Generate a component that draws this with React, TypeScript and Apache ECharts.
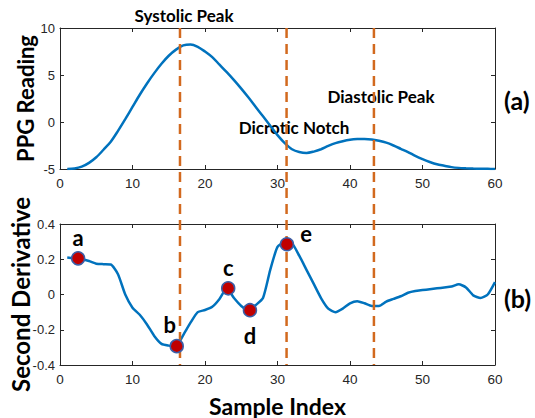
import React, { useEffect, useRef } from 'react';
import * as echarts from 'echarts';

const sampleIdx = Array.from({ length: 60 }, (_, i) => i + 1);

const ppgReading = [
  -5.0, -4.95, -4.75, -4.35, -3.75, -2.95, -2.1, -0.95, 0.3, 1.6,
  2.9, 4.1, 5.2, 6.2, 7.05, 7.7, 8.15, 8.25, 8.0, 7.5,
  6.9, 6.1, 5.3, 4.45, 3.55, 2.6, 1.6, 0.6, -0.4, -1.4,
  -2.25, -2.9, -3.2, -3.3, -3.15, -2.9, -2.55, -2.25, -2.05, -1.9,
  -1.82, -1.8, -1.85, -2.0, -2.2, -2.5, -2.85, -3.2, -3.6, -3.95,
  -4.25, -4.5, -4.65, -4.8, -4.88, -4.92, -4.95, -4.97, -4.98, -5.0,
];

const secondDeriv = [
  0.21, 0.205, 0.2, 0.19, 0.175, 0.172, 0.17, 0.115, 0.0, -0.075,
  -0.115, -0.17, -0.235, -0.28, -0.29, -0.295, -0.23, -0.16, -0.1, -0.088,
  -0.07, -0.025, 0.035, -0.02, -0.065, -0.09, -0.06, -0.02, 0.14, 0.27,
  0.295, 0.29, 0.22, 0.14, 0.06, -0.02, -0.08, -0.1, -0.08, -0.05,
  -0.038, -0.05, -0.065, -0.065, -0.04, -0.025, -0.01, 0.01, 0.02, 0.025,
  0.03, 0.035, 0.04, 0.045, 0.058, 0.04, -0.005, -0.02, 0.0, 0.07,
];

const waveLabels = ['a', 'b', 'c', 'd', 'e'];
const waveX = [2.5, 16.1, 23.2, 26.2, 31.3];
const waveY = [0.205, -0.293, 0.035, -0.089, 0.285];

const eventX = [16.55, 31.25, 43.3];
const eventNames = ['Systolic Peak', 'Dicrotic Notch', 'Diastolic Peak'];
const panelNames = ['(a)', '(b)'];

const AX = '#262626';
const BOLD = 'Lato';

function makeX(gridIndex: number, pos: 'bottom' | 'top', labels: boolean, name?: string) {
  return {
    gridIndex,
    type: 'value',
    position: pos,
    min: 0,
    max: 60,
    interval: 10,
    name: name || '',
    nameLocation: 'middle',
    nameGap: 29,
    nameMoveOverlap: false,
    nameTextStyle: { fontFamily: BOLD, fontWeight: 'bold', fontSize: 23, color: '#000' },
    axisLine: { show: true, onZero: false, lineStyle: { color: AX, width: 1 } },
    axisTick: { show: true, inside: true, length: 4, lineStyle: { color: AX } },
    axisLabel: { show: labels, color: AX, fontSize: 13.5, fontFamily: 'Liberation Sans', margin: 7 },
    splitLine: { show: false },
  };
}

function makeY(gridIndex: number, pos: 'left' | 'right', labels: boolean, min: number, max: number, interval: number, name?: string, nameSize?: number, gap?: number) {
  return {
    gridIndex,
    type: 'value',
    position: pos,
    min,
    max,
    interval,
    name: name || '',
    nameLocation: 'middle',
    nameRotate: 90,
    nameGap: gap || 24,
    nameMoveOverlap: false,
    nameTextStyle: { fontFamily: BOLD, fontWeight: 'bold', fontSize: nameSize || 22, color: '#000' },
    axisLine: { show: true, onZero: false, lineStyle: { color: AX, width: 1 } },
    axisTick: { show: true, inside: true, length: 4, lineStyle: { color: AX } },
    axisLabel: { show: labels, color: AX, fontSize: 13, fontFamily: 'Liberation Sans', margin: 5 },
    splitLine: { show: false },
  };
}

export default function App() {
  const ref = useRef<HTMLDivElement>(null);
  useEffect(() => {
    if (!ref.current) return;
    const chart = echarts.init(ref.current, null, { renderer: 'svg' });

    const labelPos: any[] = [
      { position: 'top', distance: 3, offset: [0, 0] },
      { position: 'top', distance: 3, offset: [-7, 0] },
      { position: 'top', distance: 3, offset: [0, 0] },
      { position: 'bottom', distance: 4, offset: [0, 3] },
      { position: 'right', distance: 6, offset: [0, -11] },
    ];

    const gridBase = { left: 60, width: 435, containLabel: false, outerBoundsMode: 'none' };

    const option: any = {
      animation: false,
      grid: [
        { ...gridBase, top: 28, height: 141 },
        { ...gridBase, top: 224, height: 141 },
        { ...gridBase, top: 28, height: 337 },
      ],
      xAxis: [
        makeX(0, 'bottom', true),
        makeX(0, 'top', false),
        makeX(1, 'bottom', true, 'Sample Index'),
        makeX(1, 'top', false),
        { gridIndex: 2, type: 'value', min: 0, max: 60, show: false },
      ],
      yAxis: [
        makeY(0, 'left', true, -5, 10, 5, 'PPG Reading', 22, 24),
        makeY(0, 'right', false, -5, 10, 5),
        makeY(1, 'left', true, -0.4, 0.4, 0.2, 'Second Derivative', 24, 28),
        makeY(1, 'right', false, -0.4, 0.4, 0.2),
        { gridIndex: 2, type: 'value', min: 0, max: 1, show: false },
      ],
      series: [
        {
          type: 'line',
          xAxisIndex: 0,
          yAxisIndex: 0,
          data: sampleIdx.map((x, i) => [x, ppgReading[i]]),
          smooth: 0.3,
          showSymbol: false,
          lineStyle: { color: '#0072BD', width: 2.5 },
          z: 2,
        },
        {
          type: 'line',
          xAxisIndex: 2,
          yAxisIndex: 2,
          data: sampleIdx.map((x, i) => [x, secondDeriv[i]]),
          smooth: 0.2,
          showSymbol: false,
          lineStyle: { color: '#0072BD', width: 2.5 },
          z: 2,
        },
        ...eventX.map((x, i) => ({
          type: 'line',
          name: eventNames[i],
          xAxisIndex: 4,
          yAxisIndex: 4,
          data: [[x, 1], [x, 0]],
          showSymbol: false,
          silent: true,
          lineStyle: { color: '#D2691E', width: 2.5, type: [10, 6] },
          z: 3,
        })),
        {
          type: 'scatter',
          xAxisIndex: 2,
          yAxisIndex: 2,
          symbolSize: 13,
          itemStyle: { color: '#C00000', borderColor: '#3A5FA8', borderWidth: 1.5, opacity: 1 },
          data: waveX.map((x, i) => ({
            value: [x, waveY[i]],
            label: {
              show: true,
              formatter: waveLabels[i],
              fontFamily: BOLD,
              fontWeight: 'bold',
              fontSize: 22,
              color: '#000',
              ...labelPos[i],
            },
          })),
          z: 5,
        },
      ],
      graphic: [
        { type: 'text', x: 184, y: 15, style: { text: eventNames[0], font: `bold 17px ${BOLD}`, fill: '#000', align: 'center', verticalAlign: 'middle' } },
        { type: 'text', x: 294, y: 127, style: { text: eventNames[1], font: `bold 17px ${BOLD}`, fill: '#000', align: 'center', verticalAlign: 'middle' } },
        { type: 'text', x: 381, y: 96, style: { text: eventNames[2], font: `bold 17px ${BOLD}`, fill: '#000', align: 'center', verticalAlign: 'middle' } },
        { type: 'text', x: 504, y: 100, style: { text: panelNames[0], font: `bold 25px ${BOLD}`, fill: '#000', align: 'left', verticalAlign: 'middle' } },
        { type: 'text', x: 504, y: 298, style: { text: panelNames[1], font: `bold 25px ${BOLD}`, fill: '#000', align: 'left', verticalAlign: 'middle' } },
      ],
    };
    chart.setOption(option);
    return () => chart.dispose();
  }, []);
  return (
    <div
      ref={ref}
      style={{ position: 'fixed', left: 0, top: 0, width: 535, height: 418, background: '#fff' }}
    />
  );
}
